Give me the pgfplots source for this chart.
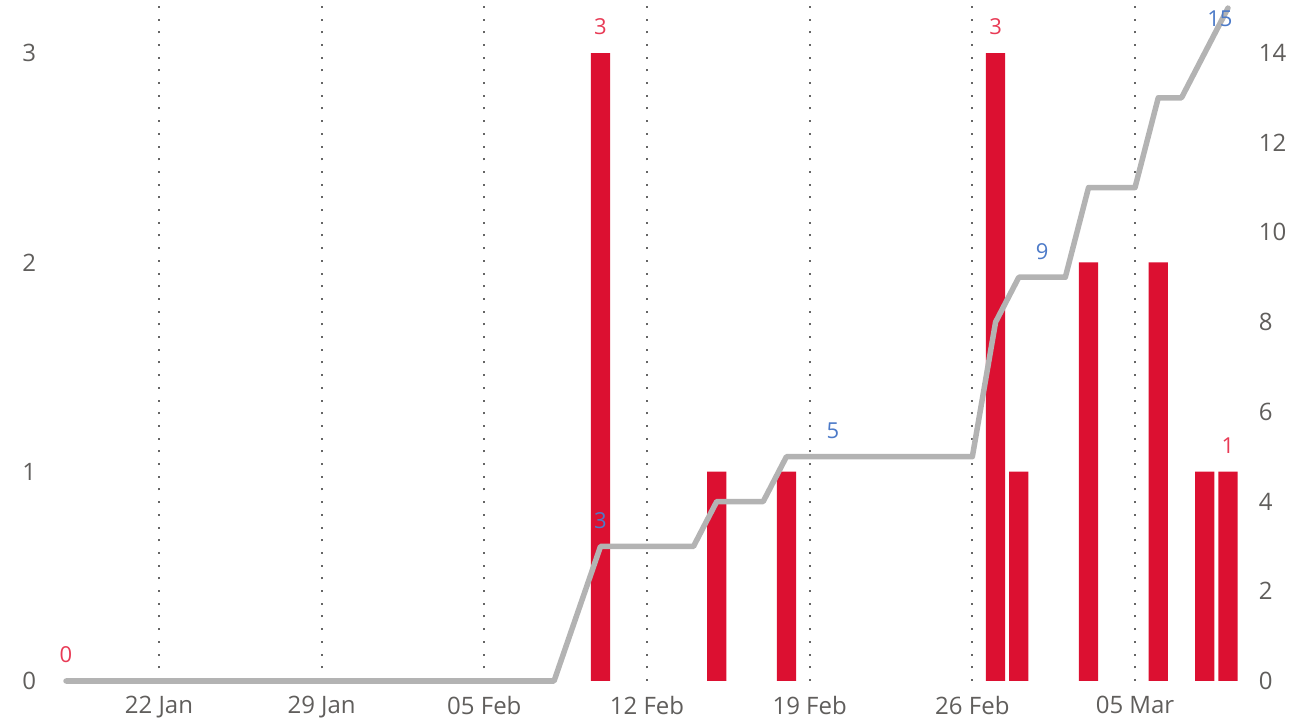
\documentclass[border=0pt]{standalone}
\usepackage{fontspec}
\setmainfont{Open Sans}
\usepackage{pgfplots}
\pgfplotsset{compat=1.18}
\definecolor{barred}{HTML}{DC1031}
\definecolor{linegray}{HTML}{B3B3B3}
\definecolor{tickgray}{HTML}{605E5C}
\definecolor{gridgray}{HTML}{666666}
\definecolor{labelred}{HTML}{E83A55}
\definecolor{labelblue}{HTML}{4C7AC8}
\begin{document}
\begin{tikzpicture}
\useasboundingbox (-54.4pt,-37pt) rectangle (1247.6pt,681pt);
\begin{axis}[
  at={(0pt,0pt)}, anchor=south west,
  width=1185.2pt, height=681pt, scale only axis,
  xmin=-0.5, xmax=50.5, ymin=0, ymax=3.2536,
  axis line style={draw=none},
  major tick length=0pt,
  xtick={4,11,18,25,32,39,46},
  xticklabels={22 Jan,29 Jan,05 Feb,12 Feb,19 Feb,26 Feb,05 Mar},
  ytick={0,1,2,3},
  xmajorgrids,
  grid style={color=gridgray, line width=2pt, dash pattern=on 2pt off 10.7pt},
  ticklabel style={font=\fontsize{24}{28}\selectfont, text=tickgray},
  /pgf/number format/assume math mode=true,
  yticklabel style={anchor=east, inner sep=0pt, xshift=-18pt},
  xticklabel style={anchor=north, inner sep=0pt, yshift=-15pt},
  clip=false,
]
\addplot[ybar, bar width=19.3pt, fill=barred, draw=none] coordinates {
  (23,3) (28,1) (31,1) (40,3) (41,1) (44,2) (47,2) (49,1) (50,1)
};
\addplot[draw=none, mark=none, nodes near coords, point meta=explicit symbolic,
  every node near coord/.append style={anchor=center, yshift=26pt, text=labelred, font=\fontsize{22}{26}\selectfont}]
  coordinates {(0,0)[0] (23,3)[3] (40,3)[3] (50,1)[1]};
\end{axis}
\begin{axis}[
  at={(0pt,0pt)}, anchor=south west,
  width=1185.2pt, height=681pt, scale only axis,
  xmin=-0.5, xmax=50.5, ymin=0, ymax=15.18,
  axis x line=none, axis y line*=right,
  axis line style={draw=none},
  major tick length=0pt,
  ytick={0,2,4,6,8,10,12,14},
  ticklabel style={font=\fontsize{24}{28}\selectfont, text=tickgray},
  /pgf/number format/assume math mode=true,
  yticklabel style={anchor=west, inner sep=0pt, xshift=19pt},
  clip=false,
]
\addplot[linegray, line width=5.5pt, line join=round, line cap=round, mark=none] coordinates {
  (0,0) (21,0) (23,3) (27,3) (28,4) (30,4) (31,5) (39,5) (40,8) (41,9) (43,9)
  (44,11) (46,11) (47,13) (48,13) (49,14) (50,15)
};
\addplot[draw=none, mark=none, nodes near coords, point meta=explicit symbolic,
  every node near coord/.append style={anchor=center, yshift=26pt, text=labelblue, font=\fontsize{22}{26}\selectfont}]
  coordinates {(23,3)[3] (33,5)[5] (42,9)[9]};
\addplot[draw=none, mark=none, nodes near coords, point meta=explicit symbolic,
  every node near coord/.append style={anchor=center, xshift=-8pt, yshift=-11pt, text=labelblue, font=\fontsize{22}{26}\selectfont}]
  coordinates {(50,15)[15]};
\end{axis}
\end{tikzpicture}
\end{document}
